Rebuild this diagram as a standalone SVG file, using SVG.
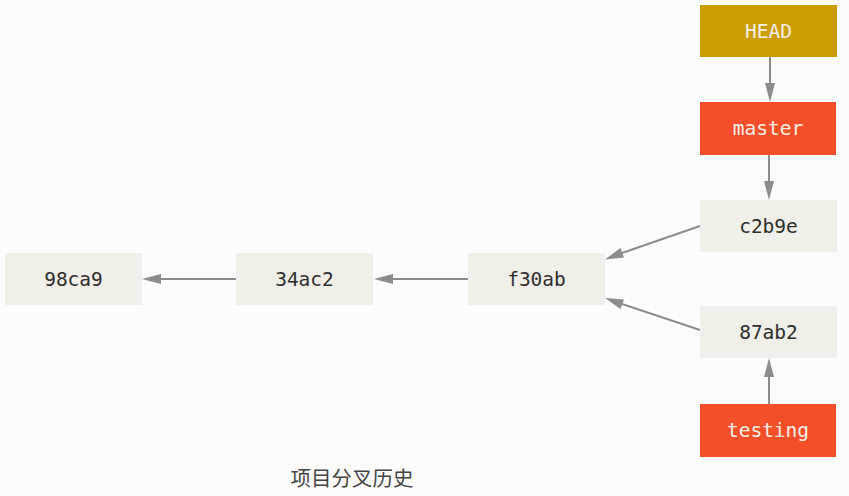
<svg xmlns="http://www.w3.org/2000/svg" width="849" height="496" viewBox="0 0 849 496">
<defs>
<style>
.commit{fill:#f0efe8}
.ct{font-family:"DejaVu Sans Mono","Liberation Mono",monospace;font-size:19.5px;fill:#2e2e2e;text-anchor:middle;dominant-baseline:central}
.rt{font-family:"DejaVu Sans Mono","Liberation Mono",monospace;font-size:19.5px;fill:#f2eee6;text-anchor:middle;dominant-baseline:central}
.ln{stroke:#8f8b86;stroke-width:2;fill:none}
.hd{fill:#8f8b86}
</style>
</defs>
<rect width="849" height="496" fill="#fcfcfa"/>
<g id="connectors">
<line class="ln" x1="770" y1="57" x2="770" y2="84"/>
<path class="hd" d="M765,83 L775,83 L770,102 z"/>
<line class="ln" x1="769" y1="155" x2="769" y2="182"/>
<path class="hd" d="M764,181 L774,181 L769,200 z"/>
<line class="ln" x1="769" y1="404" x2="769" y2="376"/>
<path class="hd" d="M764,377 L774,377 L769,358 z"/>
<line class="ln" x1="236" y1="279" x2="160" y2="279"/>
<path class="hd" d="M161,274 L161,284 L142,279 z"/>
<line class="ln" x1="468" y1="279" x2="392" y2="279"/>
<path class="hd" d="M393,274 L393,284 L374,279 z"/>
<line class="ln" x1="700" y1="226" x2="622" y2="253"/>
<path class="hd" d="M620.5,248 L624,257.5 L605,259.5 z"/>
<line class="ln" x1="700" y1="330" x2="622" y2="304"/>
<path class="hd" d="M620.5,309 L624,299.5 L605,298 z"/>
</g>
<g id="HEAD">
<rect x="700" y="5" width="137" height="52" fill="#cc9d00"/>
<text class="rt" x="768.5" y="31">HEAD</text>
</g>
<g id="master">
<rect x="700" y="102" width="136" height="53" fill="#f54f29"/>
<text class="rt" x="768" y="128.5">master</text>
</g>
<g id="c2b9e">
<rect class="commit" x="700" y="200" width="137" height="52"/>
<text class="ct" x="768.5" y="226">c2b9e</text>
</g>
<g id="87ab2">
<rect class="commit" x="700" y="306" width="137" height="52"/>
<text class="ct" x="768.5" y="332">87ab2</text>
</g>
<g id="testing">
<rect x="700" y="404" width="136" height="53" fill="#f54f29"/>
<text class="rt" x="768" y="430.5">testing</text>
</g>
<g id="f30ab">
<rect class="commit" x="468" y="253" width="137" height="52"/>
<text class="ct" x="536.5" y="279">f30ab</text>
</g>
<g id="34ac2">
<rect class="commit" x="236" y="253" width="137" height="52"/>
<text class="ct" x="304.5" y="279">34ac2</text>
</g>
<g id="98ca9">
<rect class="commit" x="5" y="253" width="137" height="52"/>
<text class="ct" x="73.5" y="279">98ca9</text>
</g>
<text x="352" y="485.5" font-family="'Noto Sans CJK SC',sans-serif" font-size="20.5" fill="#444" text-anchor="middle">项目分叉历史</text>
</svg>
